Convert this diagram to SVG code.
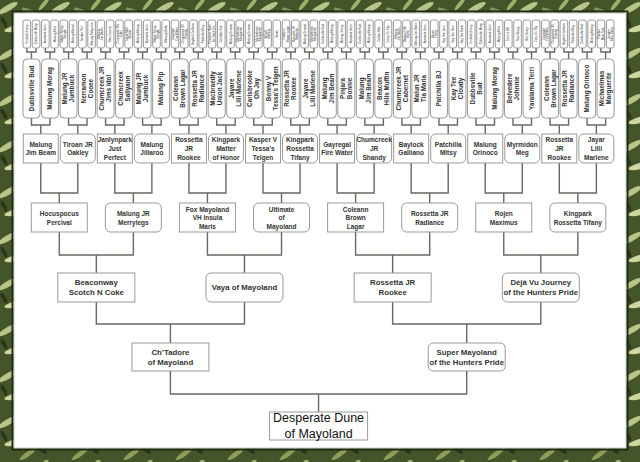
<svg xmlns="http://www.w3.org/2000/svg" width="640" height="462" viewBox="0 0 640 462">
<defs>
<pattern id="leaf" width="52" height="46" patternUnits="userSpaceOnUse">
<rect width="52" height="46" fill="#45552a"/>
<ellipse cx="8" cy="8" rx="11" ry="3" transform="rotate(-30 8 8)" fill="#b7c48a"/>
<ellipse cx="30" cy="12" rx="9" ry="2.5" transform="rotate(25 30 12)" fill="#7f9150"/>
<ellipse cx="16" cy="28" rx="12" ry="3" transform="rotate(-15 16 28)" fill="#cfd6a0"/>
<ellipse cx="40" cy="34" rx="9" ry="2.2" transform="rotate(40 40 34)" fill="#26321a"/>
<ellipse cx="4" cy="22" rx="6" ry="2" transform="rotate(60 4 22)" fill="#2a3618"/>
<ellipse cx="44" cy="4" rx="8" ry="2" transform="rotate(-50 44 4)" fill="#9fb06a"/>
<ellipse cx="28" cy="40" rx="10" ry="2.4" transform="rotate(-35 28 40)" fill="#8c9d5c"/>
<ellipse cx="46" cy="20" rx="7" ry="2.6" transform="rotate(10 46 20)" fill="#c2cc90"/>
<ellipse cx="22" cy="18" rx="5" ry="1.6" transform="rotate(70 22 18)" fill="#2f3d1c"/>
</pattern>
<style>
.b{fill:#fff;stroke:#9a9a9a;stroke-width:1}
.c{fill:none;stroke:#6e6560;stroke-width:1.4}
text{font-family:"Liberation Sans",Arial,sans-serif;fill:#333;text-anchor:middle}
.t0{font-size:12.5px;fill:#111}
.t1{font-size:7.8px;font-weight:bold}
.t3{font-size:6.5px;font-weight:bold}
.t5{font-size:6.3px;font-weight:bold}
.t6{font-size:2.9px}
</style>
</defs>
<rect width="640" height="462" fill="url(#leaf)"/>
<rect x="12.5" y="11.5" width="615" height="438" fill="none" stroke="#1f2a12" stroke-width="2"/>
<rect x="14" y="13" width="612" height="435" fill="#fff" stroke="#c8c8c0" stroke-width="1"/>

<g id="connectors">
<path class="c" d="M26.80 48V52H36.06V48M31.50 52V59M45.32 48V52H54.58V48M50.02 52V59M63.84 48V52H73.10V48M68.54 52V59M82.36 48V52H91.62V48M87.06 52V59M100.88 48V52H110.14V48M105.58 52V59M119.40 48V52H128.66V48M124.10 52V59M137.92 48V52H147.18V48M142.62 52V59M156.44 48V52H165.70V48M161.14 52V59M174.96 48V52H184.22V48M179.66 52V59M193.48 48V52H202.74V48M198.18 52V59M212.00 48V52H221.26V48M216.70 52V59M230.52 48V52H239.78V48M235.22 52V59M249.04 48V52H258.30V48M253.74 52V59M267.56 48V52H276.82V48M272.26 52V59M286.08 48V52H295.34V48M290.78 52V59M304.60 48V52H313.86V48M309.30 52V59M323.12 48V52H332.38V48M327.82 52V59M341.64 48V52H350.90V48M346.34 52V59M360.16 48V52H369.42V48M364.86 52V59M378.68 48V52H387.94V48M383.38 52V59M397.20 48V52H406.46V48M401.90 52V59M415.72 48V52H424.98V48M420.42 52V59M434.24 48V52H443.50V48M438.94 52V59M452.76 48V52H462.02V48M457.46 52V59M471.28 48V52H480.54V48M475.98 52V59M489.80 48V52H499.06V48M494.50 52V59M508.32 48V52H517.58V48M513.02 52V59M526.84 48V52H536.10V48M531.54 52V59M545.36 48V52H554.62V48M550.06 52V59M563.88 48V52H573.14V48M568.58 52V59M582.40 48V52H591.66V48M587.10 52V59M600.92 48V52H610.18V48M605.62 52V59"/>
<path class="c" d="M31.50 118V125H50.02V118M40.76 125V134M68.54 118V125H87.06V118M77.80 125V134M105.58 118V125H124.10V118M114.84 125V134M142.62 118V125H161.14V118M151.88 125V134M179.66 118V125H198.18V118M188.92 125V134M216.70 118V125H235.22V118M225.96 125V134M253.74 118V125H272.26V118M263.00 125V134M290.78 118V125H309.30V118M300.04 125V134M327.82 118V125H346.34V118M337.08 125V134M364.86 118V125H383.38V118M374.12 125V134M401.90 118V125H420.42V118M411.16 125V134M438.94 118V125H457.46V118M448.20 125V134M475.98 118V125H494.50V118M485.24 125V134M513.02 118V125H531.54V118M522.28 125V134M550.06 118V125H568.58V118M559.32 125V134M587.10 118V125H605.62V118M596.36 125V134"/>
<path class="c" d="M40.76 163V193H77.80V163M59.28 193V203M114.84 163V193H151.88V163M133.36 193V203M188.92 163V193H225.96V163M207.44 193V203M263.00 163V193H300.04V163M281.52 193V203M337.08 163V193H374.12V163M355.60 193V203M411.16 163V193H448.20V163M429.68 193V203M485.24 163V193H522.28V163M503.76 193V203M559.32 163V193H596.36V163M577.84 193V203"/>
<path class="c" d="M59.28 232V255H133.36V232M96.32 255V273M207.44 232V255H281.52V232M244.48 255V273M355.60 232V255H429.68V232M392.64 255V273M503.76 232V255H577.84V232M540.80 255V273"/>
<path class="c" d="M96.32 302V324H244.48V302M170.40 324V343M392.64 302V324H540.80V302M466.72 324V343"/>
<path class="c" d="M170.40 371V394H466.72V371M318.56 394V412"/>
</g>

<g id="n0"><rect class="b" x="269.56" y="412" width="98" height="28" stroke="#888"/><text class="t0"><tspan x="318.56" y="422.2">Desperate Dune</tspan><tspan x="318.56" y="437.8">of Mayoland</tspan></text></g>

<g id="n1-0"><rect class="b" x="131.9" y="343" width="77" height="28"/><text class="t1"><tspan x="170.4" y="354.7">Ch’Tadore</tspan><tspan x="170.4" y="364.9">of Mayoland</tspan></text></g>
<g id="n1-1"><rect class="b" x="428.22" y="343" width="77" height="28" rx="5"/><text class="t1"><tspan x="466.72" y="354.7">Super Mayoland</tspan><tspan x="466.72" y="364.9">of the Hunters Pride</tspan></text></g>

<g id="n2-0"><rect class="b" x="57.82" y="273" width="77" height="29"/><text class="t1"><tspan x="96.32" y="285.4">Beaconway</tspan><tspan x="96.32" y="295.1">Scotch N Coke</tspan></text></g>
<g id="n2-1"><rect class="b" x="205.98" y="273" width="77" height="29" rx="5"/><text class="t1"><tspan x="244.48" y="290.3">Vaya of Mayoland</tspan></text></g>
<g id="n2-2"><rect class="b" x="354.14" y="273" width="77" height="29"/><text class="t1"><tspan x="392.64" y="285.4">Rossetta JR</tspan><tspan x="392.64" y="295.1">Rookee</tspan></text></g>
<g id="n2-3"><rect class="b" x="502.30" y="273" width="77" height="29" rx="5"/><text class="t1"><tspan x="540.80" y="285.4">Déjà Vu Journey</tspan><tspan x="540.80" y="295.1">of the Hunters Pride</tspan></text></g>

<g id="n3-0"><rect class="b" x="31.28" y="203" width="56" height="29"/><text class="t3"><tspan x="59.28" y="216">Hocuspocus</tspan><tspan x="59.28" y="224.7">Percival</tspan></text></g>
<g id="n3-1"><rect class="b" x="105.36" y="203" width="56" height="29" rx="5"/><text class="t3"><tspan x="133.36" y="216">Malung JR</tspan><tspan x="133.36" y="224.7">Merrylegs</tspan></text></g>
<g id="n3-2"><rect class="b" x="179.44" y="203" width="56" height="29"/><text class="t3"><tspan x="207.44" y="211.6">Fox Mayoland</tspan><tspan x="207.44" y="220.3">VH Insula</tspan><tspan x="207.44" y="229">Maris</tspan></text></g>
<g id="n3-3"><rect class="b" x="253.52" y="203" width="56" height="29" rx="5"/><text class="t3"><tspan x="281.52" y="211.6">Ultimate</tspan><tspan x="281.52" y="220.3">of</tspan><tspan x="281.52" y="229">Mayoland</tspan></text></g>
<g id="n3-4"><rect class="b" x="327.60" y="203" width="56" height="29"/><text class="t3"><tspan x="355.60" y="211.6">Coleann</tspan><tspan x="355.60" y="220.3">Brown</tspan><tspan x="355.60" y="229">Lagar</tspan></text></g>
<g id="n3-5"><rect class="b" x="401.68" y="203" width="56" height="29" rx="5"/><text class="t3"><tspan x="429.68" y="216">Rossetta JR</tspan><tspan x="429.68" y="224.7">Radiance</tspan></text></g>
<g id="n3-6"><rect class="b" x="475.76" y="203" width="56" height="29"/><text class="t3"><tspan x="503.76" y="216">Rojen</tspan><tspan x="503.76" y="224.7">Maximus</tspan></text></g>
<g id="n3-7"><rect class="b" x="549.84" y="203" width="56" height="29" rx="5"/><text class="t3"><tspan x="577.84" y="216">Kingpark</tspan><tspan x="577.84" y="224.7">Rossetta Tifany</tspan></text></g>

<g id="n4-0"><rect class="b" x="23.26" y="134" width="35" height="29"/><text class="t3"><tspan x="40.76" y="146.7">Malung</tspan><tspan x="40.76" y="155.3">Jim Beam</tspan></text></g>
<g id="n4-1"><rect class="b" x="60.30" y="134" width="35" height="29" rx="5"/><text class="t3"><tspan x="77.80" y="146.7">Tiroan JR</tspan><tspan x="77.80" y="155.3">Oakley</tspan></text></g>
<g id="n4-2"><rect class="b" x="97.34" y="134" width="35" height="29"/><text class="t3"><tspan x="114.84" y="142.4">Janlynpark</tspan><tspan x="114.84" y="151">Just</tspan><tspan x="114.84" y="159.6">Perfect</tspan></text></g>
<g id="n4-3"><rect class="b" x="134.38" y="134" width="35" height="29" rx="5"/><text class="t3"><tspan x="151.88" y="146.7">Malung</tspan><tspan x="151.88" y="155.3">Jillaroo</tspan></text></g>
<g id="n4-4"><rect class="b" x="171.42" y="134" width="35" height="29"/><text class="t3"><tspan x="188.92" y="142.4">Rossetta</tspan><tspan x="188.92" y="151">JR</tspan><tspan x="188.92" y="159.6">Rookee</tspan></text></g>
<g id="n4-5"><rect class="b" x="208.46" y="134" width="35" height="29" rx="5"/><text class="t3"><tspan x="225.96" y="142.4">Kingpark</tspan><tspan x="225.96" y="151">Matter</tspan><tspan x="225.96" y="159.6">of Honor</tspan></text></g>
<g id="n4-6"><rect class="b" x="245.50" y="134" width="35" height="29"/><text class="t3"><tspan x="263.00" y="142.4">Kasper V</tspan><tspan x="263.00" y="151">Tessa's</tspan><tspan x="263.00" y="159.6">Telgen</tspan></text></g>
<g id="n4-7"><rect class="b" x="282.54" y="134" width="35" height="29" rx="5"/><text class="t3"><tspan x="300.04" y="142.4">Kingpark</tspan><tspan x="300.04" y="151">Rossetta</tspan><tspan x="300.04" y="159.6">Tifany</tspan></text></g>
<g id="n4-8"><rect class="b" x="319.58" y="134" width="35" height="29"/><text class="t3"><tspan x="337.08" y="146.7">Gayregal</tspan><tspan x="337.08" y="155.3">Fire Water</tspan></text></g>
<g id="n4-9"><rect class="b" x="356.62" y="134" width="35" height="29" rx="5"/><text class="t3"><tspan x="374.12" y="142.4">Chumcreek</tspan><tspan x="374.12" y="151">JR</tspan><tspan x="374.12" y="159.6">Shandy</tspan></text></g>
<g id="n4-10"><rect class="b" x="393.66" y="134" width="35" height="29"/><text class="t3"><tspan x="411.16" y="146.7">Baylock</tspan><tspan x="411.16" y="155.3">Galliano</tspan></text></g>
<g id="n4-11"><rect class="b" x="430.70" y="134" width="35" height="29" rx="5"/><text class="t3"><tspan x="448.20" y="146.7">Patchilla</tspan><tspan x="448.20" y="155.3">Mitsy</tspan></text></g>
<g id="n4-12"><rect class="b" x="467.74" y="134" width="35" height="29"/><text class="t3"><tspan x="485.24" y="146.7">Malung</tspan><tspan x="485.24" y="155.3">Orinoco</tspan></text></g>
<g id="n4-13"><rect class="b" x="504.78" y="134" width="35" height="29" rx="5"/><text class="t3"><tspan x="522.28" y="146.7">Myrmidon</tspan><tspan x="522.28" y="155.3">Meg</tspan></text></g>
<g id="n4-14"><rect class="b" x="541.82" y="134" width="35" height="29"/><text class="t3"><tspan x="559.32" y="142.4">Rossetta</tspan><tspan x="559.32" y="151">JR</tspan><tspan x="559.32" y="159.6">Rookee</tspan></text></g>
<g id="n4-15"><rect class="b" x="578.86" y="134" width="35" height="29" rx="5"/><text class="t3"><tspan x="596.36" y="142.4">Jayar</tspan><tspan x="596.36" y="151">Lilli</tspan><tspan x="596.36" y="159.6">Marlene</tspan></text></g>

<g id="n5-0"><rect class="b" x="23.00" y="59" width="17" height="59" rx="4"/><text class="t5" transform="translate(31.50 88.5) rotate(-90)"><tspan x="0" y="2.2">Dubbsville Bud</tspan></text></g>
<g id="n5-1"><rect class="b" x="41.52" y="59" width="17" height="59" rx="4"/><text class="t5" transform="translate(50.02 88.5) rotate(-90)"><tspan x="0" y="2.2">Malung Morag</tspan></text></g>
<g id="n5-2"><rect class="b" x="60.04" y="59" width="17" height="59" rx="4"/><text class="t5" transform="translate(68.54 88.5) rotate(-90)"><tspan x="0" y="-1.3">Malung JR</tspan><tspan x="0" y="5.7">Jumbuck</tspan></text></g>
<g id="n5-3"><rect class="b" x="78.56" y="59" width="17" height="59" rx="4"/><text class="t5" transform="translate(87.06 88.5) rotate(-90)"><tspan x="0" y="-1.3">Nerramon</tspan><tspan x="0" y="5.7">Cooee</tspan></text></g>
<g id="n5-4"><rect class="b" x="97.08" y="59" width="17" height="59" rx="4"/><text class="t5" transform="translate(105.58 88.5) rotate(-90)"><tspan x="0" y="-1.3">Chumcreek JR</tspan><tspan x="0" y="5.7">Jims Idol</tspan></text></g>
<g id="n5-5"><rect class="b" x="115.60" y="59" width="17" height="59" rx="4"/><text class="t5" transform="translate(124.10 88.5) rotate(-90)"><tspan x="0" y="-1.3">Chumcreek</tspan><tspan x="0" y="5.7">Sallyann</tspan></text></g>
<g id="n5-6"><rect class="b" x="134.12" y="59" width="17" height="59" rx="4"/><text class="t5" transform="translate(142.62 88.5) rotate(-90)"><tspan x="0" y="-1.3">Malung JR</tspan><tspan x="0" y="5.7">Jumbuck</tspan></text></g>
<g id="n5-7"><rect class="b" x="152.64" y="59" width="17" height="59" rx="4"/><text class="t5" transform="translate(161.14 88.5) rotate(-90)"><tspan x="0" y="2.2">Malung Pip</tspan></text></g>
<g id="n5-8"><rect class="b" x="171.16" y="59" width="17" height="59" rx="4"/><text class="t5" transform="translate(179.66 88.5) rotate(-90)"><tspan x="0" y="-1.3">Coleann</tspan><tspan x="0" y="5.7">Brown Lagar</tspan></text></g>
<g id="n5-9"><rect class="b" x="189.68" y="59" width="17" height="59" rx="4"/><text class="t5" transform="translate(198.18 88.5) rotate(-90)"><tspan x="0" y="-1.3">Rossetta JR</tspan><tspan x="0" y="5.7">Radiance</tspan></text></g>
<g id="n5-10"><rect class="b" x="208.20" y="59" width="17" height="59" rx="4"/><text class="t5" transform="translate(216.70 88.5) rotate(-90)"><tspan x="0" y="-1.3">Macbraedly</tspan><tspan x="0" y="5.7">Union Jack</tspan></text></g>
<g id="n5-11"><rect class="b" x="226.72" y="59" width="17" height="59" rx="4"/><text class="t5" transform="translate(235.22 88.5) rotate(-90)"><tspan x="0" y="-1.3">Jayare</tspan><tspan x="0" y="5.7">Lilli Marlene</tspan></text></g>
<g id="n5-12"><rect class="b" x="245.24" y="59" width="17" height="59" rx="4"/><text class="t5" transform="translate(253.74 88.5) rotate(-90)"><tspan x="0" y="-1.3">Carisbrooke</tspan><tspan x="0" y="5.7">Oh Jay</tspan></text></g>
<g id="n5-13"><rect class="b" x="263.76" y="59" width="17" height="59" rx="4"/><text class="t5" transform="translate(272.26 88.5) rotate(-90)"><tspan x="0" y="-1.3">Bonny V</tspan><tspan x="0" y="5.7">Tessa's Telgen</tspan></text></g>
<g id="n5-14"><rect class="b" x="282.28" y="59" width="17" height="59" rx="4"/><text class="t5" transform="translate(290.78 88.5) rotate(-90)"><tspan x="0" y="-1.3">Rossetta JR</tspan><tspan x="0" y="5.7">Rookee</tspan></text></g>
<g id="n5-15"><rect class="b" x="300.80" y="59" width="17" height="59" rx="4"/><text class="t5" transform="translate(309.30 88.5) rotate(-90)"><tspan x="0" y="-1.3">Jayare</tspan><tspan x="0" y="5.7">Lilli Marlene</tspan></text></g>
<g id="n5-16"><rect class="b" x="319.32" y="59" width="17" height="59" rx="4"/><text class="t5" transform="translate(327.82 88.5) rotate(-90)"><tspan x="0" y="-1.3">Malung</tspan><tspan x="0" y="5.7">Jim Beam</tspan></text></g>
<g id="n5-17"><rect class="b" x="337.84" y="59" width="17" height="59" rx="4"/><text class="t5" transform="translate(346.34 88.5) rotate(-90)"><tspan x="0" y="-1.3">Pinjara</tspan><tspan x="0" y="5.7">Bonnie</tspan></text></g>
<g id="n5-18"><rect class="b" x="356.36" y="59" width="17" height="59" rx="4"/><text class="t5" transform="translate(364.86 88.5) rotate(-90)"><tspan x="0" y="-1.3">Malung</tspan><tspan x="0" y="5.7">Jim Beam</tspan></text></g>
<g id="n5-19"><rect class="b" x="374.88" y="59" width="17" height="59" rx="4"/><text class="t5" transform="translate(383.38 88.5) rotate(-90)"><tspan x="0" y="-1.3">Beacon</tspan><tspan x="0" y="5.7">Hills Muffin</tspan></text></g>
<g id="n5-20"><rect class="b" x="393.40" y="59" width="17" height="59" rx="4"/><text class="t5" transform="translate(401.90 88.5) rotate(-90)"><tspan x="0" y="-1.3">Chumcreek JR</tspan><tspan x="0" y="5.7">Cabernet</tspan></text></g>
<g id="n5-21"><rect class="b" x="411.92" y="59" width="17" height="59" rx="4"/><text class="t5" transform="translate(420.42 88.5) rotate(-90)"><tspan x="0" y="-1.3">Malun JR</tspan><tspan x="0" y="5.7">Tia Maria</tspan></text></g>
<g id="n5-22"><rect class="b" x="430.44" y="59" width="17" height="59" rx="4"/><text class="t5" transform="translate(438.94 88.5) rotate(-90)"><tspan x="0" y="2.2">Patchilla BJ</tspan></text></g>
<g id="n5-23"><rect class="b" x="448.96" y="59" width="17" height="59" rx="4"/><text class="t5" transform="translate(457.46 88.5) rotate(-90)"><tspan x="0" y="-1.3">Kay Tee</tspan><tspan x="0" y="5.7">Cloudy</tspan></text></g>
<g id="n5-24"><rect class="b" x="467.48" y="59" width="17" height="59" rx="4"/><text class="t5" transform="translate(475.98 88.5) rotate(-90)"><tspan x="0" y="-1.3">Dubbsville</tspan><tspan x="0" y="5.7">Bud</tspan></text></g>
<g id="n5-25"><rect class="b" x="486.00" y="59" width="17" height="59" rx="4"/><text class="t5" transform="translate(494.50 88.5) rotate(-90)"><tspan x="0" y="2.2">Malung Morag</tspan></text></g>
<g id="n5-26"><rect class="b" x="504.52" y="59" width="17" height="59" rx="4"/><text class="t5" transform="translate(513.02 88.5) rotate(-90)"><tspan x="0" y="-1.3">Belvedere</tspan><tspan x="0" y="5.7">Johnnie</tspan></text></g>
<g id="n5-27"><rect class="b" x="523.04" y="59" width="17" height="59" rx="4"/><text class="t5" transform="translate(531.54 88.5) rotate(-90)"><tspan x="0" y="2.2">Yaralama Terri</tspan></text></g>
<g id="n5-28"><rect class="b" x="541.56" y="59" width="17" height="59" rx="4"/><text class="t5" transform="translate(550.06 88.5) rotate(-90)"><tspan x="0" y="-1.3">Coleann</tspan><tspan x="0" y="5.7">Brown Lagar</tspan></text></g>
<g id="n5-29"><rect class="b" x="560.08" y="59" width="17" height="59" rx="4"/><text class="t5" transform="translate(568.58 88.5) rotate(-90)"><tspan x="0" y="-1.3">Rossetta JR</tspan><tspan x="0" y="5.7">Radiance</tspan></text></g>
<g id="n5-30"><rect class="b" x="578.60" y="59" width="17" height="59" rx="4"/><text class="t5" transform="translate(587.10 88.5) rotate(-90)"><tspan x="0" y="2.2">Malung Orinoco</tspan></text></g>
<g id="n5-31"><rect class="b" x="597.12" y="59" width="17" height="59" rx="4"/><text class="t5" transform="translate(605.62 88.5) rotate(-90)"><tspan x="0" y="-1.3">Michaelmas</tspan><tspan x="0" y="5.7">Marguerite</tspan></text></g>

<g id="n6-0"><rect class="b" x="23.00" y="20" width="7.6" height="28" rx="2"/><text class="t6" transform="translate(26.80 34) rotate(-90)"><tspan x="0" y="1">Ensfeld Jimmy</tspan></text></g>
<g id="n6-1"><rect class="b" x="32.26" y="20" width="7.6" height="28" rx="2"/><text class="t6" transform="translate(36.06 34) rotate(-90)"><tspan x="0" y="1">Dubbsville Marg</tspan></text></g>
<g id="n6-2"><rect class="b" x="41.52" y="20" width="7.6" height="28" rx="2"/><text class="t6" transform="translate(45.32 34) rotate(-90)"><tspan x="0" y="1">Kooroola Gem</tspan></text></g>
<g id="n6-3"><rect class="b" x="50.78" y="20" width="7.6" height="28" rx="2"/><text class="t6" transform="translate(54.58 34) rotate(-90)"><tspan x="0" y="1">Malung Mimi</tspan></text></g>
<g id="n6-4"><rect class="b" x="60.04" y="20" width="7.6" height="28" rx="2"/><text class="t6" transform="translate(63.84 34) rotate(-90)"><tspan x="0" y="-0.6">Illdoon Fancy</tspan><tspan x="0" y="2.6">Bangle</tspan></text></g>
<g id="n6-5"><rect class="b" x="69.30" y="20" width="7.6" height="28" rx="2"/><text class="t6" transform="translate(73.10 34) rotate(-90)"><tspan x="0" y="1">Malung Morad</tspan></text></g>
<g id="n6-6"><rect class="b" x="78.56" y="20" width="7.6" height="28" rx="2"/><text class="t6" transform="translate(82.36 34) rotate(-90)"><tspan x="0" y="1">Jondarr Pat</tspan></text></g>
<g id="n6-7"><rect class="b" x="87.82" y="20" width="7.6" height="28" rx="2"/><text class="t6" transform="translate(91.62 34) rotate(-90)"><tspan x="0" y="1">Malung Pollyanna</tspan></text></g>
<g id="n6-8"><rect class="b" x="97.08" y="20" width="7.6" height="28" rx="2"/><text class="t6" transform="translate(100.88 34) rotate(-90)"><tspan x="0" y="-0.6">Malung</tspan><tspan x="0" y="2.6">Jim Beam</tspan></text></g>
<g id="n6-9"><rect class="b" x="106.34" y="20" width="7.6" height="28" rx="2"/><text class="t6" transform="translate(110.14 34) rotate(-90)"><tspan x="0" y="1">Mac Cosmic</tspan></text></g>
<g id="n6-10"><rect class="b" x="115.60" y="20" width="7.6" height="28" rx="2"/><text class="t6" transform="translate(119.40 34) rotate(-90)"><tspan x="0" y="-0.6">Chumcreek Rhi</tspan><tspan x="0" y="2.6">Sufei</tspan></text></g>
<g id="n6-11"><rect class="b" x="124.86" y="20" width="7.6" height="28" rx="2"/><text class="t6" transform="translate(128.66 34) rotate(-90)"><tspan x="0" y="-0.6">Inapa Mob</tspan><tspan x="0" y="2.6">Banker</tspan></text></g>
<g id="n6-12"><rect class="b" x="134.12" y="20" width="7.6" height="28" rx="2"/><text class="t6" transform="translate(137.92 34) rotate(-90)"><tspan x="0" y="1">Malung Morag</tspan></text></g>
<g id="n6-13"><rect class="b" x="143.38" y="20" width="7.6" height="28" rx="2"/><text class="t6" transform="translate(147.18 34) rotate(-90)"><tspan x="0" y="1">Kooroola Gem</tspan></text></g>
<g id="n6-14"><rect class="b" x="152.64" y="20" width="7.6" height="28" rx="2"/><text class="t6" transform="translate(156.44 34) rotate(-90)"><tspan x="0" y="-0.6">Illdoon Fancy</tspan><tspan x="0" y="2.6">Bangle</tspan></text></g>
<g id="n6-15"><rect class="b" x="161.90" y="20" width="7.6" height="28" rx="2"/><text class="t6" transform="translate(165.70 34) rotate(-90)"><tspan x="0" y="1">Malung Mako</tspan></text></g>
<g id="n6-16"><rect class="b" x="171.16" y="20" width="7.6" height="28" rx="2"/><text class="t6" transform="translate(174.96 34) rotate(-90)"><tspan x="0" y="-0.6">Gayregal</tspan><tspan x="0" y="2.6">Fire Water</tspan></text></g>
<g id="n6-17"><rect class="b" x="180.42" y="20" width="7.6" height="28" rx="2"/><text class="t6" transform="translate(184.22 34) rotate(-90)"><tspan x="0" y="-0.6">Chumcreek JR</tspan><tspan x="0" y="2.6">Shandy</tspan></text></g>
<g id="n6-18"><rect class="b" x="189.68" y="20" width="7.6" height="28" rx="2"/><text class="t6" transform="translate(193.48 34) rotate(-90)"><tspan x="0" y="1">Baylock Galliano</tspan></text></g>
<g id="n6-19"><rect class="b" x="198.94" y="20" width="7.6" height="28" rx="2"/><text class="t6" transform="translate(202.74 34) rotate(-90)"><tspan x="0" y="1">Patchilla Mitsy</tspan></text></g>
<g id="n6-20"><rect class="b" x="208.20" y="20" width="7.6" height="28" rx="2"/><text class="t6" transform="translate(212.00 34) rotate(-90)"><tspan x="0" y="-0.6">Pinecrest Rock</tspan><tspan x="0" y="2.6">Em Sock Em</tspan></text></g>
<g id="n6-21"><rect class="b" x="217.46" y="20" width="7.6" height="28" rx="2"/><text class="t6" transform="translate(221.26 34) rotate(-90)"><tspan x="0" y="1">Cali Mac Sue</tspan></text></g>
<g id="n6-22"><rect class="b" x="226.72" y="20" width="7.6" height="28" rx="2"/><text class="t6" transform="translate(230.52 34) rotate(-90)"><tspan x="0" y="1">Malung Orinoco</tspan></text></g>
<g id="n6-23"><rect class="b" x="235.98" y="20" width="7.6" height="28" rx="2"/><text class="t6" transform="translate(239.78 34) rotate(-90)"><tspan x="0" y="-0.6">Michaelmas</tspan><tspan x="0" y="2.6">Marguerite</tspan></text></g>
<g id="n6-24"><rect class="b" x="245.24" y="20" width="7.6" height="28" rx="2"/><text class="t6" transform="translate(249.04 34) rotate(-90)"><tspan x="0" y="1">Malung Orinoco</tspan></text></g>
<g id="n6-25"><rect class="b" x="254.50" y="20" width="7.6" height="28" rx="2"/><text class="t6" transform="translate(258.30 34) rotate(-90)"><tspan x="0" y="-0.6">Michaelmas</tspan><tspan x="0" y="2.6">Marguerite</tspan></text></g>
<g id="n6-26"><rect class="b" x="263.76" y="20" width="7.6" height="28" rx="2"/><text class="t6" transform="translate(267.56 34) rotate(-90)"><tspan x="0" y="-0.6">Wright</tspan><tspan x="0" y="2.6">Malung</tspan></text></g>
<g id="n6-27"><rect class="b" x="273.02" y="20" width="7.6" height="28" rx="2"/><text class="t6" transform="translate(276.82 34) rotate(-90)"><tspan x="0" y="1">Sarah</tspan></text></g>
<g id="n6-28"><rect class="b" x="282.28" y="20" width="7.6" height="28" rx="2"/><text class="t6" transform="translate(286.08 34) rotate(-90)"><tspan x="0" y="-0.6">Coleann</tspan><tspan x="0" y="2.6">Brown Lagar</tspan></text></g>
<g id="n6-29"><rect class="b" x="291.54" y="20" width="7.6" height="28" rx="2"/><text class="t6" transform="translate(295.34 34) rotate(-90)"><tspan x="0" y="-0.6">Rossetta JR</tspan><tspan x="0" y="2.6">Radiance</tspan></text></g>
<g id="n6-30"><rect class="b" x="300.80" y="20" width="7.6" height="28" rx="2"/><text class="t6" transform="translate(304.60 34) rotate(-90)"><tspan x="0" y="1">Malung Orinoco</tspan></text></g>
<g id="n6-31"><rect class="b" x="310.06" y="20" width="7.6" height="28" rx="2"/><text class="t6" transform="translate(313.86 34) rotate(-90)"><tspan x="0" y="-0.6">Michaelmas</tspan><tspan x="0" y="2.6">Marguerite</tspan></text></g>
<g id="n6-32"><rect class="b" x="319.32" y="20" width="7.6" height="28" rx="2"/><text class="t6" transform="translate(323.12 34) rotate(-90)"><tspan x="0" y="1">Dubbsville Bud</tspan></text></g>
<g id="n6-33"><rect class="b" x="328.58" y="20" width="7.6" height="28" rx="2"/><text class="t6" transform="translate(332.38 34) rotate(-90)"><tspan x="0" y="1">Malung Morag</tspan></text></g>
<g id="n6-34"><rect class="b" x="337.84" y="20" width="7.6" height="28" rx="2"/><text class="t6" transform="translate(341.64 34) rotate(-90)"><tspan x="0" y="1">Malung Jimmy</tspan></text></g>
<g id="n6-35"><rect class="b" x="347.10" y="20" width="7.6" height="28" rx="2"/><text class="t6" transform="translate(350.90 34) rotate(-90)"><tspan x="0" y="1">Kooroola Gem</tspan></text></g>
<g id="n6-36"><rect class="b" x="356.36" y="20" width="7.6" height="28" rx="2"/><text class="t6" transform="translate(360.16 34) rotate(-90)"><tspan x="0" y="1">Dubbsville Bud</tspan></text></g>
<g id="n6-37"><rect class="b" x="365.62" y="20" width="7.6" height="28" rx="2"/><text class="t6" transform="translate(369.42 34) rotate(-90)"><tspan x="0" y="1">Malung Morag</tspan></text></g>
<g id="n6-38"><rect class="b" x="374.88" y="20" width="7.6" height="28" rx="2"/><text class="t6" transform="translate(378.68 34) rotate(-90)"><tspan x="0" y="1">Gubles Max</tspan></text></g>
<g id="n6-39"><rect class="b" x="384.14" y="20" width="7.6" height="28" rx="2"/><text class="t6" transform="translate(387.94 34) rotate(-90)"><tspan x="0" y="1">Carry On Jilly</tspan></text></g>
<g id="n6-40"><rect class="b" x="393.40" y="20" width="7.6" height="28" rx="2"/><text class="t6" transform="translate(397.20 34) rotate(-90)"><tspan x="0" y="-0.6">Malung</tspan><tspan x="0" y="2.6">Jim Beam</tspan></text></g>
<g id="n6-41"><rect class="b" x="402.66" y="20" width="7.6" height="28" rx="2"/><text class="t6" transform="translate(406.46 34) rotate(-90)"><tspan x="0" y="-0.6">Beacon Hills</tspan><tspan x="0" y="2.6">Muffin</tspan></text></g>
<g id="n6-42"><rect class="b" x="411.92" y="20" width="7.6" height="28" rx="2"/><text class="t6" transform="translate(415.72 34) rotate(-90)"><tspan x="0" y="1">Malung Jim Beam</tspan></text></g>
<g id="n6-43"><rect class="b" x="421.18" y="20" width="7.6" height="28" rx="2"/><text class="t6" transform="translate(424.98 34) rotate(-90)"><tspan x="0" y="1">Kooroola Gem</tspan></text></g>
<g id="n6-44"><rect class="b" x="430.44" y="20" width="7.6" height="28" rx="2"/><text class="t6" transform="translate(434.24 34) rotate(-90)"><tspan x="0" y="-0.6">Illoura</tspan><tspan x="0" y="2.6">Tifany</tspan></text></g>
<g id="n6-45"><rect class="b" x="439.70" y="20" width="7.6" height="28" rx="2"/><text class="t6" transform="translate(443.50 34) rotate(-90)"><tspan x="0" y="1">Kay Tee Jenn</tspan></text></g>
<g id="n6-46"><rect class="b" x="448.96" y="20" width="7.6" height="28" rx="2"/><text class="t6" transform="translate(452.76 34) rotate(-90)"><tspan x="0" y="1">Kay Tee Sam</tspan></text></g>
<g id="n6-47"><rect class="b" x="458.22" y="20" width="7.6" height="28" rx="2"/><text class="t6" transform="translate(462.02 34) rotate(-90)"><tspan x="0" y="1">Kay Tee Teeth</tspan></text></g>
<g id="n6-48"><rect class="b" x="467.48" y="20" width="7.6" height="28" rx="2"/><text class="t6" transform="translate(471.28 34) rotate(-90)"><tspan x="0" y="1">Ensfeld Jimmy</tspan></text></g>
<g id="n6-49"><rect class="b" x="476.74" y="20" width="7.6" height="28" rx="2"/><text class="t6" transform="translate(480.54 34) rotate(-90)"><tspan x="0" y="1">Dubbsville Marg</tspan></text></g>
<g id="n6-50"><rect class="b" x="486.00" y="20" width="7.6" height="28" rx="2"/><text class="t6" transform="translate(489.80 34) rotate(-90)"><tspan x="0" y="1">Kooroola Gem</tspan></text></g>
<g id="n6-51"><rect class="b" x="495.26" y="20" width="7.6" height="28" rx="2"/><text class="t6" transform="translate(499.06 34) rotate(-90)"><tspan x="0" y="1">Malung Mimi</tspan></text></g>
<g id="n6-52"><rect class="b" x="504.52" y="20" width="7.6" height="28" rx="2"/><text class="t6" transform="translate(508.32 34) rotate(-90)"><tspan x="0" y="1">Tam Lil Bill</tspan></text></g>
<g id="n6-53"><rect class="b" x="513.78" y="20" width="7.6" height="28" rx="2"/><text class="t6" transform="translate(517.58 34) rotate(-90)"><tspan x="0" y="1">Tess Bossy</tspan></text></g>
<g id="n6-54"><rect class="b" x="523.04" y="20" width="7.6" height="28" rx="2"/><text class="t6" transform="translate(526.84 34) rotate(-90)"><tspan x="0" y="1">Bal Jimmy</tspan></text></g>
<g id="n6-55"><rect class="b" x="532.30" y="20" width="7.6" height="28" rx="2"/><text class="t6" transform="translate(536.10 34) rotate(-90)"><tspan x="0" y="1">Cary Un Tilly</tspan></text></g>
<g id="n6-56"><rect class="b" x="541.56" y="20" width="7.6" height="28" rx="2"/><text class="t6" transform="translate(545.36 34) rotate(-90)"><tspan x="0" y="-0.6">Gayregal</tspan><tspan x="0" y="2.6">Fire Water</tspan></text></g>
<g id="n6-57"><rect class="b" x="550.82" y="20" width="7.6" height="28" rx="2"/><text class="t6" transform="translate(554.62 34) rotate(-90)"><tspan x="0" y="-0.6">Chumcreek JR</tspan><tspan x="0" y="2.6">Shandy</tspan></text></g>
<g id="n6-58"><rect class="b" x="560.08" y="20" width="7.6" height="28" rx="2"/><text class="t6" transform="translate(563.88 34) rotate(-90)"><tspan x="0" y="1">Baylock Galliano</tspan></text></g>
<g id="n6-59"><rect class="b" x="569.34" y="20" width="7.6" height="28" rx="2"/><text class="t6" transform="translate(573.14 34) rotate(-90)"><tspan x="0" y="1">Patchilla Mitsy</tspan></text></g>
<g id="n6-60"><rect class="b" x="578.60" y="20" width="7.6" height="28" rx="2"/><text class="t6" transform="translate(582.40 34) rotate(-90)"><tspan x="0" y="1">Dubbsville Bud</tspan></text></g>
<g id="n6-61"><rect class="b" x="587.86" y="20" width="7.6" height="28" rx="2"/><text class="t6" transform="translate(591.66 34) rotate(-90)"><tspan x="0" y="1">Malung Morag</tspan></text></g>
<g id="n6-62"><rect class="b" x="597.12" y="20" width="7.6" height="28" rx="2"/><text class="t6" transform="translate(600.92 34) rotate(-90)"><tspan x="0" y="-0.6">Picabar</tspan><tspan x="0" y="2.6">Majo Tara</tspan></text></g>
<g id="n6-63"><rect class="b" x="606.38" y="20" width="7.6" height="28" rx="2"/><text class="t6" transform="translate(610.18 34) rotate(-90)"><tspan x="0" y="-0.6">Jondarr</tspan><tspan x="0" y="2.6">Miss Daisy</tspan></text></g>
</svg>
